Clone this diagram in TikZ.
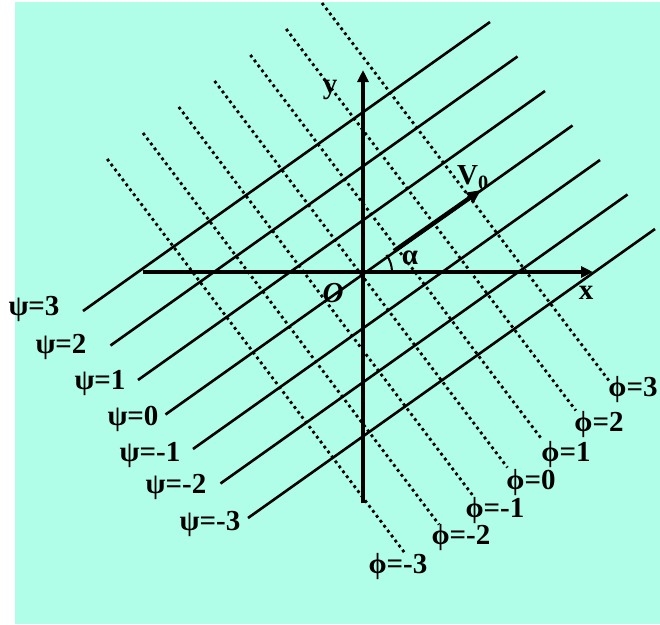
\documentclass[tikz,border=0pt]{standalone}
\usepackage{fontspec}
\setmainfont{Liberation Serif}
\usetikzlibrary{arrows.meta}
\definecolor{paleaqua}{RGB}{176,254,232}

\begin{document}
\begin{tikzpicture}[
  x=1pt, y=-1pt,
  lbl/.style={font=\fontsize{29}{31}\selectfont\bfseries, inner sep=0pt},
  psiline/.style={line width=2.6pt},
  philine/.style={line width=2.8pt, dash pattern=on 2.8pt off 3.4pt},
  axis/.style={line width=3.2pt, -{Triangle[length=12pt,width=11pt]}},
  vel/.style={line width=4.4pt, -{Triangle[length=14pt,width=12pt]}}
]
  \useasboundingbox (0,0) rectangle (660,624);
  \fill[paleaqua] (15,2) rectangle (660,624);

  % psi = const (solid)
  \foreach \i [evaluate=\i as \sx using 83+27.5*\i,
               evaluate=\i as \sy using 311+34.5*\i] in {0,...,6} {
    \coordinate (ps\i) at (\sx,\sy);
    \coordinate (pe\i) at (\sx+407,\sy-289);
    \draw[psiline] (ps\i) -- (pe\i);
  }

  % phi = const (dotted)
  \foreach \i [evaluate=\i as \tx using 322-35.8*\i,
               evaluate=\i as \ty using 3+26*\i,
               evaluate=\i as \bx using 610-34.2*\i,
               evaluate=\i as \by using 382+28.5*\i] in {0,...,6} {
    \coordinate (ft\i) at (\tx,\ty);
    \coordinate (fb\i) at (\bx,\by);
    \draw[philine] (ft\i) -- (fb\i);
  }

  % labels
  \foreach \v/\px/\py [count=\i] in {3/34/309, 2/61/347, 1/100/383, 0/133/419,
                                     -1/150/455, -2/176/487, -3/210/524}
    \node[lbl] (psi\i) at (\px,\py) {ψ=\v};
  \foreach \v/\px/\py [count=\i] in {3/633/390, 2/599/425, 1/566/455, 0/531/483,
                                     -1/495/511, -2/461/538, -3/398/567}
    \node[lbl] (phi\i) at (\px,\py) {ϕ=\v};

  % axes
  \coordinate (O) at (363,272);
  \coordinate (xl) at (143,272);
  \coordinate (xr) at (593,272);
  \coordinate (yb) at (363,503);
  \coordinate (yt) at (363,70);
  \draw[axis] (xl) -- (xr);
  \draw[axis] (yb) -- (yt);
  \node[lbl] (xlab) at (586,293) {x};
  \node[lbl] (ylab) at (330,90) {y};
  \node[lbl, font=\fontsize{29}{31}\selectfont\bfseries\itshape] (olab) at (333,293) {O};

  % velocity and angle
  \coordinate (v0s) at (394,251);
  \coordinate (v0e) at (481,190);
  \draw[vel] (v0s) -- (v0e);
  \node[lbl] (vlab) at (473,178) {V\textsubscript{0}};
  \draw[line width=2pt] (392,272) arc[start angle=0, end angle=-36, radius=29];
  \node[lbl] (alab) at (410,258) {α};
\end{tikzpicture}
\end{document}
